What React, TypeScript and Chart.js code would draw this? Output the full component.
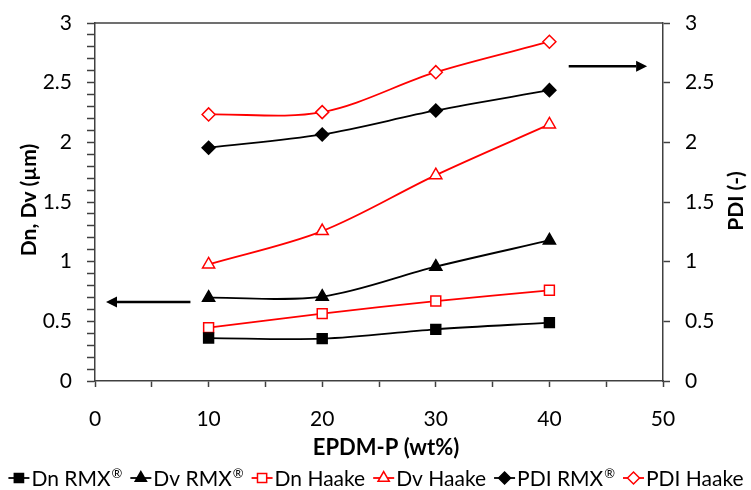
import React, { useEffect, useRef } from 'react';
import { Chart, registerables } from 'chart.js';

Chart.register(...registerables);

// ---- data ----
const xValues = [10, 20, 30, 40];
const dnRMX = [0.36, 0.355, 0.433, 0.489];
const dvRMX = [0.698, 0.707, 0.958, 1.178];
const dnHaake = [0.447, 0.565, 0.67, 0.76];
const dvHaake = [0.977, 1.256, 1.725, 2.15];
const pdiRMX = [1.955, 2.066, 2.267, 2.437];
const pdiHaake = [2.234, 2.253, 2.588, 2.843];

const seriesNames = ['Dn RMX®', 'Dv RMX®', 'Dn Haake', 'Dv Haake', 'PDI RMX®', 'PDI Haake'];
const xTitle = 'EPDM-P (wt%)';
const leftTitle = 'Dn, Dv (µm)';
const rightTitle = 'PDI (-)';

// arrow annotations in data units
const leftArrow = { fromX: 8.4, toX: 0.97, y: 0.662 };
const rightArrow = { fromX: 41.7, toX: 48.6, y: 2.638 };

const FONT = 'Lato, "Open Sans", sans-serif';
const AXIS_COLOR = '#404040';
const RED = '#ff0000';
const BLACK = '#000000';

type Style = 'rect' | 'triangle' | 'rectRot';

function drawMarker(ctx: CanvasRenderingContext2D, style: Style, x: number, y: number, r: number, color: string, filled: boolean) {
  ctx.save();
  ctx.beginPath();
  if (style === 'rect') {
    const s = Math.SQRT1_2 * r;
    ctx.rect(x - s, y - s, 2 * s, 2 * s);
  } else if (style === 'triangle') {
    for (let k = 0; k < 3; k++) {
      const a = (k * 2 * Math.PI) / 3;
      const px = x + Math.sin(a) * r;
      const py = y - Math.cos(a) * r;
      if (k === 0) ctx.moveTo(px, py);
      else ctx.lineTo(px, py);
    }
    ctx.closePath();
  } else {
    ctx.moveTo(x - r, y);
    ctx.lineTo(x, y - r);
    ctx.lineTo(x + r, y);
    ctx.lineTo(x, y + r);
    ctx.closePath();
  }
  ctx.fillStyle = filled ? color : '#ffffff';
  ctx.fill();
  ctx.strokeStyle = color;
  ctx.lineWidth = 1.5;
  ctx.stroke();
  ctx.restore();
}

const seriesStyles: { color: string; style: Style; filled: boolean; radius: number }[] = [
  { color: BLACK, style: 'rect', filled: true, radius: 7 },
  { color: BLACK, style: 'triangle', filled: true, radius: 7 },
  { color: RED, style: 'rect', filled: false, radius: 7 },
  { color: RED, style: 'triangle', filled: false, radius: 7 },
  { color: BLACK, style: 'rectRot', filled: true, radius: 6.5 },
  { color: RED, style: 'rectRot', filled: false, radius: 6.5 },
];

function drawArrow(ctx: CanvasRenderingContext2D, x1: number, x2: number, y: number) {
  const dir = Math.sign(x2 - x1);
  const head = 11;
  ctx.save();
  ctx.strokeStyle = BLACK;
  ctx.fillStyle = BLACK;
  ctx.lineWidth = 2.5;
  ctx.beginPath();
  ctx.moveTo(x1, y);
  ctx.lineTo(x2 - dir * head, y);
  ctx.stroke();
  ctx.beginPath();
  ctx.moveTo(x2, y);
  ctx.lineTo(x2 - dir * head, y - 5.5);
  ctx.lineTo(x2 - dir * head, y + 5.5);
  ctx.closePath();
  ctx.fill();
  ctx.restore();
}

function drawLabelWithReg(ctx: CanvasRenderingContext2D, text: string, x: number, y: number, size: number): number {
  const parts = text.split('®');
  ctx.font = `${size}px ${FONT}`;
  ctx.fillText(parts[0], x, y);
  let w = ctx.measureText(parts[0]).width;
  if (parts.length > 1) {
    const small = Math.round(size * 0.62);
    ctx.font = `${small}px ${FONT}`;
    ctx.fillText('®', x + w + 1, y - size * 0.36);
    w += ctx.measureText('®').width + 1;
    ctx.font = `${size}px ${FONT}`;
  }
  return w;
}

function measureLabel(ctx: CanvasRenderingContext2D, text: string, size: number): number {
  const parts = text.split('®');
  ctx.font = `${size}px ${FONT}`;
  let w = ctx.measureText(parts[0]).width;
  if (parts.length > 1) {
    ctx.font = `${Math.round(size * 0.62)}px ${FONT}`;
    w += ctx.measureText('®').width + 1;
  }
  return w;
}

const decorPlugin = {
  id: 'decor',
  beforeDraw(chart: any) {
    const ctx = chart.ctx as CanvasRenderingContext2D;
    ctx.save();
    ctx.fillStyle = '#ffffff';
    ctx.fillRect(0, 0, chart.width, chart.height);
    ctx.restore();
  },
  afterDraw(chart: any) {
    const ctx = chart.ctx as CanvasRenderingContext2D;
    const { chartArea, scales } = chart;
    // top frame line
    ctx.save();
    ctx.strokeStyle = AXIS_COLOR;
    ctx.lineWidth = 1.5;
    ctx.beginPath();
    ctx.moveTo(chartArea.left, chartArea.top);
    ctx.lineTo(chartArea.right, chartArea.top);
    ctx.stroke();
    ctx.restore();

    // titles
    ctx.save();
    ctx.fillStyle = BLACK;
    ctx.textAlign = 'center';
    ctx.textBaseline = 'alphabetic';
    ctx.font = `bold 22px ${FONT}`;
    ctx.fillText(xTitle, (chartArea.left + chartArea.right) / 2 + 7, 455);
    ctx.font = `bold 21px ${FONT}`;
    ctx.save();
    ctx.translate(36, 200);
    ctx.rotate(-Math.PI / 2);
    ctx.fillText(leftTitle, 0, 0);
    ctx.restore();
    ctx.save();
    ctx.translate(743, 201);
    ctx.rotate(-Math.PI / 2);
    ctx.fillText(rightTitle, 0, 0);
    ctx.restore();
    ctx.restore();

    // arrows
    const x = scales.x;
    drawArrow(ctx, x.getPixelForValue(leftArrow.fromX), x.getPixelForValue(leftArrow.toX), scales.y.getPixelForValue(leftArrow.y));
    drawArrow(ctx, x.getPixelForValue(rightArrow.fromX), x.getPixelForValue(rightArrow.toX), scales.y2.getPixelForValue(rightArrow.y));

    // legend
    const size = 21;
    const markerW = 21;
    const gapAfterMarker = 2;
    const gapItems = 8;
    const widths = seriesNames.map((n) => measureLabel(ctx, n, size));
    const total = widths.reduce((a, w) => a + markerW + gapAfterMarker + w, 0) + gapItems * (seriesNames.length - 1);
    let cx = 376 - total / 2;
    const ly = 478;
    ctx.save();
    ctx.textBaseline = 'alphabetic';
    ctx.textAlign = 'left';
    seriesNames.forEach((name, i) => {
      const st = seriesStyles[i];
      ctx.strokeStyle = st.color;
      ctx.lineWidth = 1.8;
      ctx.beginPath();
      ctx.moveTo(cx, ly);
      ctx.lineTo(cx + markerW, ly);
      ctx.stroke();
      drawMarker(ctx, st.style, cx + markerW / 2, ly, st.style === 'rectRot' ? 6 : 6.5, st.color, st.filled);
      cx += markerW + gapAfterMarker;
      ctx.fillStyle = BLACK;
      drawLabelWithReg(ctx, name, cx, ly + 8, size);
      cx += widths[i] + gapItems;
    });
    ctx.restore();
  },
};

export default function App() {
  const ref = useRef<HTMLCanvasElement>(null);
  useEffect(() => {
    const canvas = ref.current!;
    const allSeries = [dnRMX, dvRMX, dnHaake, dvHaake, pdiRMX, pdiHaake];
    const axes = ['y', 'y', 'y', 'y', 'y2', 'y2'];
    const datasets = allSeries.map((vals, i) => {
      const st = seriesStyles[i];
      return {
        label: seriesNames[i],
        data: xValues.map((xv, k) => ({ x: xv, y: vals[k] })),
        yAxisID: axes[i],
        borderColor: st.color,
        backgroundColor: st.filled ? st.color : '#ffffff',
        pointStyle: st.style,
        pointRadius: st.radius,
        pointHoverRadius: st.radius,
        pointBorderColor: st.color,
        pointBackgroundColor: st.filled ? st.color : '#ffffff',
        pointBorderWidth: 1.5,
        borderWidth: 1.8,
        tension: 0.33,
        fill: false,
      };
    });
    const tickFont = { family: FONT, size: 21 };
    const chart = new Chart(canvas, {
      type: 'line',
      data: { datasets },
      plugins: [decorPlugin],
      options: {
        animation: false,
        responsive: false,
        devicePixelRatio: 1,
        layout: { padding: { top: 23, left: 0, right: 0, bottom: 0 } },
        plugins: { legend: { display: false }, tooltip: { enabled: false }, title: { display: false } },
        scales: {
          x: {
            type: 'linear',
            position: 'bottom',
            min: 0,
            max: 50,
            ticks: {
              stepSize: 5,
              color: BLACK,
              font: tickFont,
              padding: 20,
              maxRotation: 0,
              autoSkip: false,
              callback: (v: any) => (Math.abs(v % 10) < 1e-6 ? String(v) : ''),
            },
            grid: { display: true, drawOnChartArea: false, drawTicks: true, tickLength: 6, tickColor: AXIS_COLOR, tickWidth: 1.5 },
            border: { display: true, color: AXIS_COLOR, width: 1.5 },
            afterFit: (s: any) => { s.height = 109; s.paddingLeft = 0; s.paddingRight = 0; },
          },
          y: {
            type: 'linear',
            position: 'left',
            min: 0,
            max: 3,
            ticks: {
              stepSize: 0.1,
              color: BLACK,
              font: tickFont,
              padding: 15,
              autoSkip: false,
              callback: (v: any) => {
                const d = v * 2;
                return Math.abs(d - Math.round(d)) < 1e-6 ? String(Math.round(v * 10) / 10) : '';
              },
            },
            grid: { display: true, drawOnChartArea: false, drawTicks: true, tickLength: 8, tickColor: AXIS_COLOR, tickWidth: 1.5 },
            border: { display: true, color: AXIS_COLOR, width: 1.5 },
            afterFit: (s: any) => { s.width = 95; s.paddingTop = 0; s.paddingBottom = 0; },
          },
          y2: {
            type: 'linear',
            position: 'right',
            min: 0,
            max: 3,
            ticks: {
              stepSize: 0.5,
              color: BLACK,
              font: tickFont,
              padding: 15,
              autoSkip: false,
              callback: (v: any) => String(Math.round(v * 10) / 10),
            },
            grid: { display: true, drawOnChartArea: false, drawTicks: true, tickLength: 7, tickColor: AXIS_COLOR, tickWidth: 1.5 },
            border: { display: true, color: AXIS_COLOR, width: 1.5 },
            afterFit: (s: any) => { s.width = 88; s.paddingTop = 0; s.paddingBottom = 0; },
          },
        },
      } as any,
    });
    return () => chart.destroy();
  }, []);
  return (
    <div style={{ position: 'absolute', left: 0, top: 0, width: 751, height: 490 }}>
      <canvas ref={ref} width={751} height={490} style={{ display: 'block', width: 751, height: 490 }} />
    </div>
  );
}
